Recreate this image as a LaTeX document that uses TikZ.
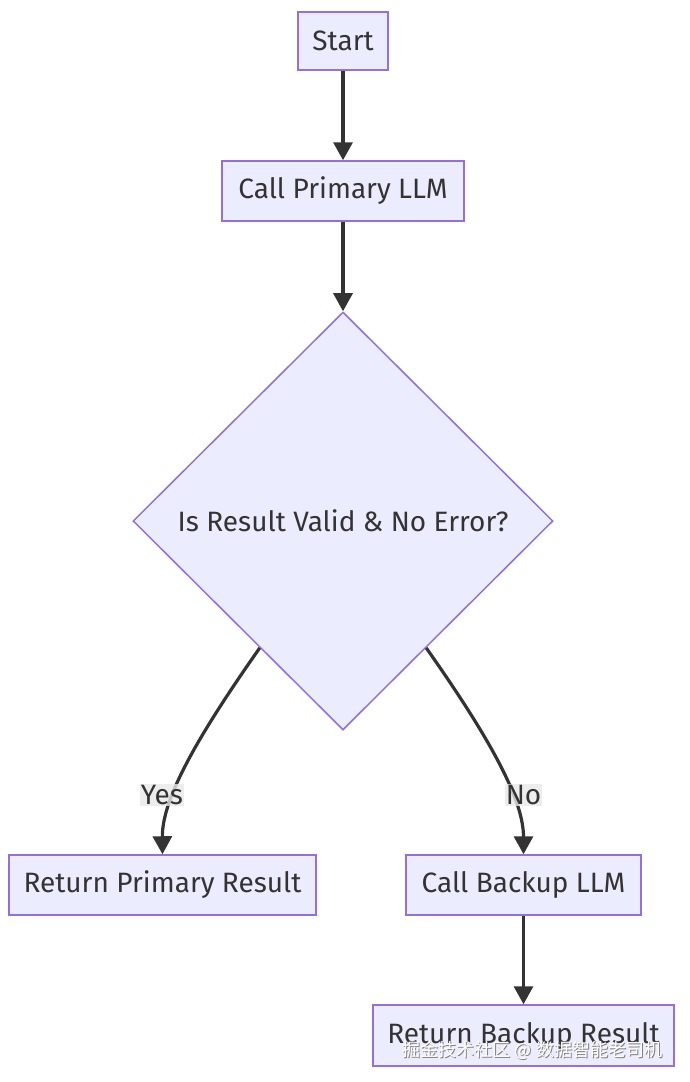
\documentclass[tikz,border=0pt]{standalone}
\usepackage{fontspec}
\setmainfont{Fira Sans}
\newfontfamily\cjk{Noto Sans CJK SC}
\usetikzlibrary{shapes.geometric,arrows.meta,calc}

\definecolor{boxfill}{HTML}{ECECFF}
\definecolor{boxline}{HTML}{9370DB}
\definecolor{arrowcol}{HTML}{333333}
\definecolor{labelbg}{HTML}{E8E8E8}

\tikzset{
  flowbox/.style={draw=boxline, fill=boxfill, line width=1.5pt, inner sep=0pt,
    text=arrowcol, font=\fontsize{28}{32}\selectfont},
  decbox/.style={flowbox, shape=diamond, minimum width=420pt, minimum height=418pt},
  flowarrow/.style={draw=arrowcol, line width=3.2pt, -{Triangle[length=18pt,width=19pt]}},
  edgelabel/.style={fill=labelbg, fill opacity=0.8, text opacity=1, text=arrowcol,
    inner sep=1pt, font=\fontsize{28}{32}\selectfont}
}

\begin{document}
\begin{tikzpicture}[x=1pt,y=-1pt]
    \useasboundingbox (0,0) rectangle (689,1082);
    % draw nodes
    \node[flowbox, minimum width=90pt, minimum height=58pt] (start) at (343,41) {Start};
    \node[flowbox, minimum width=242pt, minimum height=60pt] (prim) at (343,191) {Call Primary LLM};
    \node[decbox] (valid) at (343,521) {Is Result Valid \& No Error?};
    \node[flowbox, minimum width=307pt, minimum height=60pt] (retprim) at (162.5,885) {Return Primary Result};
    \node[flowbox, minimum width=235pt, minimum height=60pt] (backup) at (523.5,885) {Call Backup LLM};
    \node[flowbox, minimum width=301pt, minimum height=61pt] (retback) at (523.5,1035.5) {Return Backup Result};

    % exit points on the diamond
    \coordinate (yesout) at ($(valid.west)!0.605!(valid.south)$);
    \coordinate (noout) at ($(valid.east)!0.605!(valid.south)$);

    % draw arrows
    \draw[flowarrow] (start) -- (prim);
    \draw[flowarrow] (prim) -- (valid);
    \draw[flowarrow] (yesout) .. controls (195,740) and (162,800) .. (retprim.north);
    \draw[flowarrow] (noout) .. controls (491,740) and (523.5,800) .. (backup.north);
    \draw[flowarrow] (backup) -- (retback);

    % edge labels
    \node[edgelabel] (yeslab) at (162,795) {Yes};
    \node[edgelabel] (nolab) at (523.5,795) {No};

    % watermark
    \node[text=gray, font=\cjk\fontsize{18}{20}\selectfont] (wmshadow) at (533.5,1051) {掘金技术社区 @ 数据智能老司机};
    \node[text=white, font=\cjk\fontsize{18}{20}\selectfont] (wmark) at (532.5,1050) {掘金技术社区 @ 数据智能老司机};
\end{tikzpicture}
\end{document}
